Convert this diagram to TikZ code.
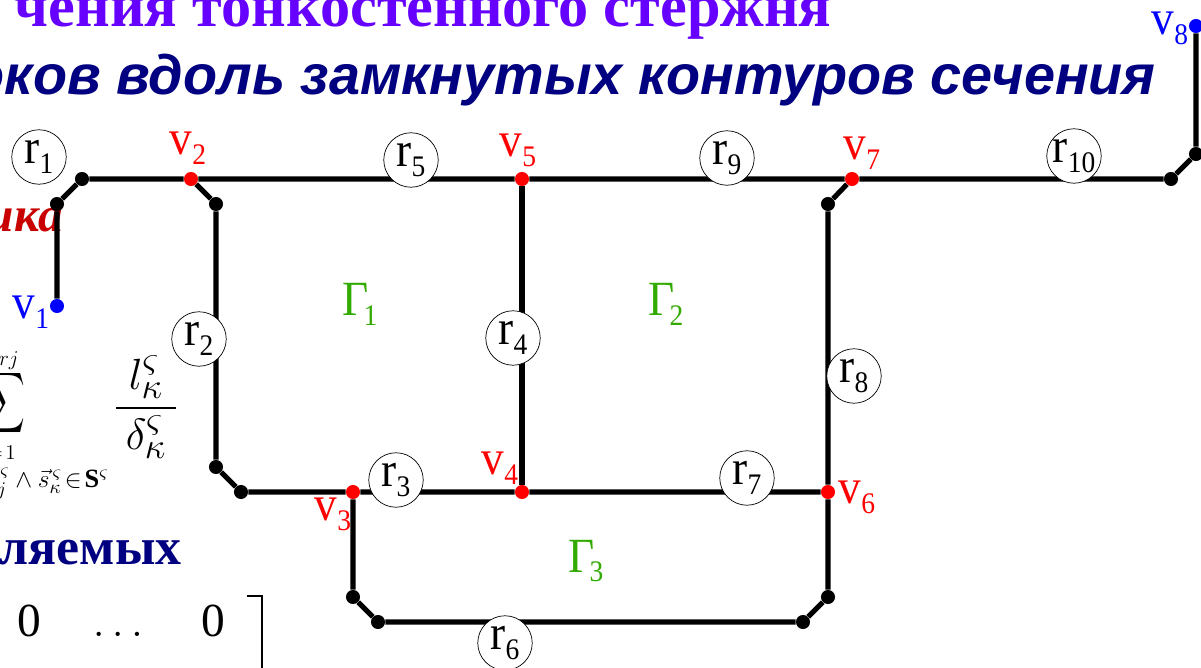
\documentclass[tikz,border=0pt]{standalone}
\usepackage{amssymb}
\usepackage{amsmath}
\usepackage{fontspec}
\setmainfont{Liberation Serif}
\newfontfamily\headfont{Liberation Sans}
\newfontfamily\schemefont[FakeStretch=0.92]{Liberation Serif}
\usetikzlibrary{arrows.meta, positioning, calc}
\definecolor{titleviolet}{RGB}{102, 0, 255}
\definecolor{titlenavy}  {RGB}{0, 0, 128}
\definecolor{notered}    {RGB}{200, 0, 0}
\definecolor{loopgreen}  {RGB}{51, 170, 0}
\newcommand{\idx}[2]{#1\raisebox{-.2em}{\fontsize{17}{17}\selectfont #2}}
\tikzset{
	seg/.style={line width=2.9pt, black},
	dotk/.style={circle, fill=black, inner sep=0pt, minimum size=8pt},
	dotr/.style={circle, fill=red, inner sep=0pt, minimum size=8pt},
	dotb/.style={circle, fill=blue, inner sep=0pt, minimum size=8pt},
	rodlabel/.style={circle, draw=black, line width=0.4pt, fill=white, inner sep=0pt,
		minimum size=31pt, font=\schemefont\fontsize{28}{28}\selectfont},
	vertlabel/.style={red, font=\schemefont\fontsize{28}{28}\selectfont, inner sep=0pt},
	endlabel/.style={blue, font=\schemefont\fontsize{28}{28}\selectfont, inner sep=0pt},
	looplabel/.style={loopgreen, font=\schemefont\fontsize{28}{28}\selectfont, inner sep=0pt}
}
\begin{document}
\begin{tikzpicture}[x=0.02cm, y=-0.02cm]
	\useasboundingbox (0,0) rectangle (1201,668);
	\clip (0,0) rectangle (1201,668);
	% text behind the scheme
	\node[anchor=base east, inner sep=0pt, titleviolet, font=\fontsize{34.3}{34.3}\selectfont\bfseries] (title1) at (832,27) {чения тонкостенного стержня};
	\node[anchor=base east, inner sep=0pt, titlenavy, font=\headfont\fontsize{31.75}{31.75}\selectfont\bfseries\itshape] (title2) at (1156,95) {оков вдоль замкнутых контуров сечения};
	\node[anchor=base east, inner sep=0pt, notered, font=\fontsize{28}{28}\selectfont\bfseries\itshape] (note) at (63,232) {ика};
	\node[anchor=base east, inner sep=0pt, titlenavy, font=\fontsize{29.5}{29.5}\selectfont\bfseries] (unknowns) at (182,565) {ляемых};
	% formula
	\node[anchor=east, inner sep=0pt, font=\fontsize{24}{24}\selectfont] (sumsign) at (26,403) {\scalebox{.62}[1]{$\displaystyle\sum$}};
	\node[anchor=east, inner sep=0pt, font=\fontsize{13}{13}\selectfont] (sumtop) at (19,361) {$\varsigma rj$};
	\node[anchor=east, inner sep=0pt, font=\fontsize{12}{12}\selectfont] (sumbot) at (16,453) {$=\!1$};
	\node[anchor=east, inner sep=0pt, font=\fontsize{15}{15}\selectfont] (sumset) at (109,484) {$\vec{s}^{\,\varsigma}_{j}\wedge\vec{s}^{\,\varsigma}_{\kappa}\!\in\!\mathbf{S}^{\varsigma}$};
	\node[inner sep=0pt, font=\fontsize{29}{29}\selectfont] (ratio) at (146,407) {$\dfrac{\mkern4mu l^{\varsigma}_{\kappa}\mkern4mu}{\mkern4mu\delta^{\varsigma}_{\kappa}\mkern4mu}$};
	% matrix row
	\node[anchor=base, inner sep=0pt, font=\fontsize{27}{27}\selectfont] (zero1) at (29,637) {0};
	\node[anchor=base, inner sep=0pt, font=\fontsize{27}{27}\selectfont] (dots) at (118,637) {$\ldots$};
	\node[anchor=base, inner sep=0pt, font=\fontsize{27}{27}\selectfont] (zero2) at (213,637) {0};
	\coordinate (br1) at (247,596);
	\coordinate (br2) at (262,596);
	\coordinate (br3) at (262,668);
	\draw[line width=1.3pt] (br1) -- (br2) -- (br3);
	% scheme points
	\foreach \name/\x/\y in {a1/57/204, a2/82/179, a3/216/204, a4/216/467, a5/241/492, a6/828/204,
		a7/828/597, a8/803/622, a9/378/622, a10/353/597, a11/1171/179, a12/1196/154}
		\node[dotk] (\name) at (\x,\y) {};
	\foreach \name/\x/\y in {v2/191/179, v3/353/492, v4/522/492, v5/522/179, v6/828/492, v7/852/179}
		\node[dotr] (\name) at (\x,\y) {};
	\node[dotb] (v1) at (57,306) {};
	\node[dotb] (v8) at (1196,26) {};
	% rods
	\draw[seg] (v1) -- (a1) -- (a2) -- (v2) -- (v5) -- (v7) -- (a11) -- (a12) -- (v8);
	\draw[seg] (v2) -- (a3) -- (a4) -- (a5) -- (v3) -- (v4) -- (v6);
	\draw[seg] (v5) -- (v4);
	\draw[seg] (v7) -- (a6) -- (v6) -- (a7) -- (a8) -- (a9) -- (a10) -- (v3);
	% rod numbers
	\foreach \name/\x/\y/\num in {r1/39/157/1, r2/199/339/2, r3/396/480/3, r4/513/338/4, r5/411/160/5,
		r6/505/643/6, r7/747/478/7, r8/854/376/8, r9/727/158/9, r10/1074/156/10}
		\node[rodlabel] (\name) at (\x,\y) {\idx{r}{\num}};
	% vertex names
	\foreach \name/\x/\y/\num in {lv2/188/148/2, lv3/333/514/3, lv4/500/468/4, lv5/518/150/5, lv6/857/497/6, lv7/862/153/7}
		\node[vertlabel] (\name) at (\x,\y) {\idx{v}{\num}};
	\node[endlabel] (lv1) at (31,312) {\idx{v}{1}};
	\node[endlabel] (lv8) at (1170,28) {\idx{v}{8}};
	% closed contours
	\foreach \name/\x/\y/\num in {g1/360/304/1, g2/666/304/2, g3/586/561/3}
		\node[looplabel] (\name) at (\x,\y) {\idx{Γ\kern-3pt}{\num}};
\end{tikzpicture}
\end{document}
